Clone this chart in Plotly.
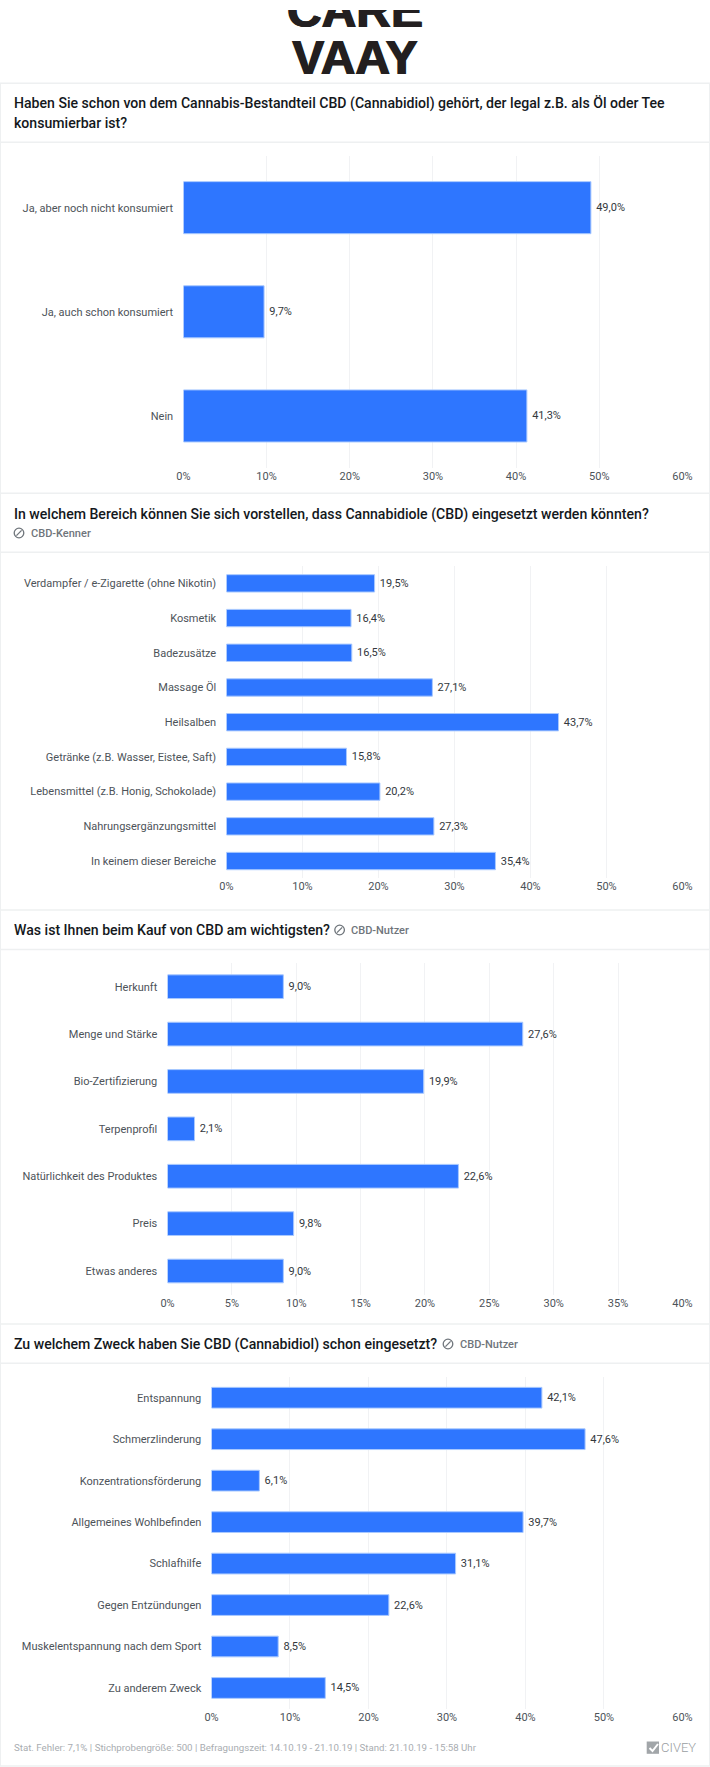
import plotly.graph_objects as go

W, H = 710, 1767

# ---- data ----
cats1 = ["Ja, aber noch nicht konsumiert", "Ja, auch schon konsumiert", "Nein"]
vals1 = [49.0, 9.7, 41.3]
cats2 = ["Verdampfer / e-Zigarette (ohne Nikotin)", "Kosmetik", "Badezusätze", "Massage Öl", "Heilsalben",
         "Getränke (z.B. Wasser, Eistee, Saft)", "Lebensmittel (z.B. Honig, Schokolade)",
         "Nahrungsergänzungsmittel", "In keinem dieser Bereiche"]
vals2 = [19.5, 16.4, 16.5, 27.1, 43.7, 15.8, 20.2, 27.3, 35.4]
cats3 = ["Herkunft", "Menge und Stärke", "Bio-Zertifizierung", "Terpenprofil",
         "Natürlichkeit des Produktes", "Preis", "Etwas anderes"]
vals3 = [9.0, 27.6, 19.9, 2.1, 22.6, 9.8, 9.0]
cats4 = ["Entspannung", "Schmerzlinderung", "Konzentrationsförderung", "Allgemeines Wohlbefinden",
         "Schlafhilfe", "Gegen Entzündungen", "Muskelentspannung nach dem Sport", "Zu anderem Zweck"]
vals4 = [42.1, 47.6, 6.1, 39.7, 31.1, 22.6, 8.5, 14.5]
ticks_60 = [0, 10, 20, 30, 40, 50, 60]
ticks_40 = [0, 5, 10, 15, 20, 25, 30, 35, 40]
footer = "Stat. Fehler: 7,1% | Stichprobengröße: 500 | Befragungszeit: 14.10.19 - 21.10.19 | Stand: 21.10.19 - 15:58 Uhr"

# ---- style ----
BLUE = "#2e76ff"
EDGE = "#a9c9ff"
GRID = "#f1f2f4"
BORDER = "#eef0f1"
LABEL = "#4d5359"
VALUE = "#33383d"
FONT = "Roboto"
SMALL = 11

def fx(x): return x / W
def fy(y): return 1 - y / H

panels = [
    dict(c=cats1, v=vals1, t=ticks_60, mx=60, x0=183.4, top=155.6, bot=468.0),
    dict(c=cats2, v=vals2, t=ticks_60, mx=60, x0=226.4, top=566.0, bot=878.4),
    dict(c=cats3, v=vals3, t=ticks_40, mx=40, x0=167.5, top=963.0, bot=1294.7),
    dict(c=cats4, v=vals4, t=ticks_60, mx=60, x0=211.5, top=1377.0, bot=1708.7),
]
X1 = 682.4

fig = go.Figure()
layout = dict(
    width=W, height=H, margin=dict(l=0, r=0, t=0, b=0, autoexpand=False),
    paper_bgcolor="white", plot_bgcolor="white", showlegend=False,
    separators=",.", font=dict(family=FONT, size=SMALL, color=LABEL),
    bargap=0.5, hovermode=False,
)
for i, p in enumerate(panels, start=1):
    s = "" if i == 1 else str(i)
    fig.add_trace(go.Bar(
        x=p["v"], y=p["c"], orientation="h", xaxis="x" + s, yaxis="y" + s,
        marker=dict(color=BLUE, line=dict(color=EDGE, width=1)),
        text=[f"\u2009{v:.1f}%".replace(".", ",") for v in p["v"]],
        textposition="outside", cliponaxis=False,
        textfont=dict(family=FONT, size=SMALL, color=VALUE),
    ))
    layout["xaxis" + s] = dict(
        domain=[fx(p["x0"]), fx(X1)], range=[0, p["mx"]], anchor="y" + s,
        tickvals=p["t"], ticktext=[f"{t}%" for t in p["t"]],
        showgrid=True, gridcolor=GRID, gridwidth=1, zeroline=False, showline=False,
        ticks="",
        tickfont=dict(family=FONT, size=SMALL, color=LABEL),
    )
    layout["yaxis" + s] = dict(
        domain=[fy(p["bot"]), fy(p["top"])], anchor="x" + s, type="category",
        categoryorder="array", categoryarray=p["c"], autorange="reversed",
        showgrid=False, zeroline=False, showline=False,
        ticks="outside", ticklen=7, tickcolor="rgba(0,0,0,0)",
        tickfont=dict(family=FONT, size=SMALL, color=LABEL),
    )

# logo: real text, clipped at its top by its own hidden axes
fig.add_trace(go.Scatter(
    x=[355, 355], y=[15, 62], text=["CARE", "VAAY"], mode="text", xaxis="x5", yaxis="y5",
    textposition="middle center", cliponaxis=True,
    textfont=dict(family="Liberation Sans", size=48, color="#231f20", weight="bold",
                  shadow="0.8px 0 0 #231f20, -0.8px 0 0 #231f20"),
))
layout["xaxis5"] = dict(domain=[fx(270), fx(440)], range=[270, 440], visible=False, anchor="y5")
layout["yaxis5"] = dict(domain=[fy(85), fy(10)], range=[85, 10], visible=False, anchor="x5")

ann = []
def text(x, y, s, size=SMALL, color=LABEL, weight=None, anchor="left"):
    f = dict(family=FONT, size=size, color=color)
    if weight:
        f["weight"] = weight
    ann.append(dict(x=fx(x), y=fy(y), xref="paper", yref="paper", text=s, showarrow=False,
                    xanchor=anchor, yanchor="middle", font=f, align="left",
                    borderpad=0, borderwidth=0))

TITLE = "#14181c"
T = 14.1
text(13.6, 103.3, "Haben Sie schon von dem Cannabis-Bestandteil CBD (Cannabidiol) gehört, der legal z.B. als Öl oder Tee", T, TITLE, 500)
text(13.6, 123.3, "konsumierbar ist?", T, TITLE, 500)
text(13.6, 514, "In welchem Bereich können Sie sich vorstellen, dass Cannabidiole (CBD) eingesetzt werden könnten?", T, TITLE, 500)
text(13.6, 930.3, "Was ist Ihnen beim Kauf von CBD am wichtigsten?", T, TITLE, 500)
text(13.6, 1344.5, "Zu welchem Zweck haben Sie CBD (Cannabidiol) schon eingesetzt?", T, TITLE, 500)
SUB = "#6f757b"
text(31, 533, "CBD-Kenner", SMALL, SUB, 500)
text(351.4, 930, "CBD-Nutzer", SMALL, SUB, 500)
text(460, 1344, "CBD-Nutzer", SMALL, SUB, 500)
text(13.6, 1747.3, footer, 9.7, "#a9adb1")
text(660.5, 1747.5, "CIVEY", 13, "#9a9ea2", 300)
layout["annotations"] = ann

shapes = []
def hline(y, w=1.5):
    shapes.append(dict(type="line", xref="paper", yref="paper", x0=0, x1=1, y0=fy(y), y1=fy(y),
                       line=dict(color=BORDER, width=w), layer="below"))
for y in [83.3, 142.3, 493.3, 552.3, 910, 949.5, 1324, 1363.3, 1766]:
    hline(y)
for xv in [0.5, 709.5]:
    shapes.append(dict(type="line", xref="paper", yref="paper", x0=fx(xv), x1=fx(xv),
                       y0=fy(1766), y1=fy(83.3), line=dict(color=BORDER, width=1), layer="below"))
# the small audience icon next to the sub-labels
for cx, cy in [(19, 533), (339.6, 930), (448, 1344)]:
    r = 4.8
    shapes.append(dict(type="circle", xref="paper", yref="paper", x0=fx(cx - r), x1=fx(cx + r),
                       y0=fy(cy + r), y1=fy(cy - r), line=dict(color="#6f757b", width=1.3)))
    shapes.append(dict(type="line", xref="paper", yref="paper", x0=fx(cx - 2.6), x1=fx(cx + 2.6),
                       y0=fy(cy + 2.6), y1=fy(cy - 2.6), line=dict(color="#6f757b", width=1.3)))
# civey mark
shapes.append(dict(type="rect", xref="paper", yref="paper", x0=fx(646.7), x1=fx(659),
                   y0=fy(1753.8), y1=fy(1741.5), fillcolor="#a2a6a9", line=dict(width=0)))
shapes.append(dict(type="path", xref="paper", yref="paper",
                   path=f"M {fx(649.5)} {fy(1748)} L {fx(652.5)} {fy(1751)} L {fx(658)} {fy(1744)}",
                   line=dict(color="white", width=2)))
layout["shapes"] = shapes

fig.update_layout(**layout)
fig.write_html("out.html", config=dict(displayModeBar=False),
               post_script="document.body.style.margin='0';document.body.style.overflow='hidden';")
